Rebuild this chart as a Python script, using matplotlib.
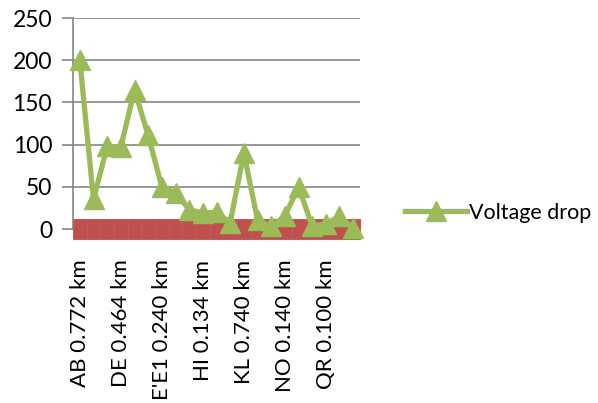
import matplotlib
matplotlib.use('Agg')
import matplotlib.pyplot as plt
import numpy as np

# voltage drop per section (21 sections)
sections = ["AB", "BC", "CD", "DE", "EE'", "E'E", "E'E1", "E1F", "FG", "HI", "IJ",
            "JK", "KL", "LM", "MN", "NO", "OP", "PQ", "QR", "RS", "ST"]
voltage_drop = [200, 35, 98, 97, 165, 111, 50, 43, 23, 19, 20,
                7.5, 90, 11, 3, 15, 50, 3.5, 6, 15, 1]
# second (red) series, sits on the zero line
base_series = [12] * len(sections)

tick_idx = [0, 3, 6, 9, 12, 15, 18]
tick_labels = ["AB 0.772 km", "DE 0.464 km", "E'E1 0.240 km", "HI 0.134 km",
               "KL 0.740 km", "NO 0.140 km", "QR 0.100 km"]

green = '#9BBB59'
red = '#C0504D'
plt.rcParams['font.family'] = ['Lato', 'DejaVu Sans']

fig = plt.figure(figsize=(5.98, 4.03), dpi=100)
ax = fig.add_axes([73 / 598, 1 - 229 / 403, (360 - 73) / 598, (229 - 18) / 403])

x = np.arange(len(sections))
ax.bar(x, [2 * v for v in base_series], bottom=[-v for v in base_series], width=1.0,
       color=red, edgecolor='#C65A57', linewidth=0.8, clip_on=False, zorder=2)
ax.plot(x, voltage_drop, color=green, linewidth=3.8, marker='^', markersize=14,
        label='Voltage drop', zorder=3, clip_on=False)

ax.set_xlim(-0.5, len(sections) - 0.5)
ax.set_ylim(0, 250)
ax.set_yticks([0, 50, 100, 150, 200, 250])
ax.yaxis.grid(True, color='#868686', linewidth=1.2)
ax.set_axisbelow(True)
for s in ['top', 'right', 'bottom']:
    ax.spines[s].set_visible(False)
ax.spines['left'].set_color('#868686')
ax.spines['left'].set_linewidth(1.2)
ax.tick_params(axis='y', length=8, color='#868686', width=1.2, labelsize=16.5, pad=7)

ax.set_xticks(tick_idx)
ax.set_xticklabels(tick_labels, rotation=90, fontsize=16)
ax.tick_params(axis='x', length=0, pad=22)

fig.legend(loc='center left', bbox_to_anchor=(396 / 598, 1 - 213 / 403), frameon=False,
           fontsize=15.5, handlelength=2.9, handletextpad=0.1, borderaxespad=0)

fig.savefig('out.png', dpi=100)
